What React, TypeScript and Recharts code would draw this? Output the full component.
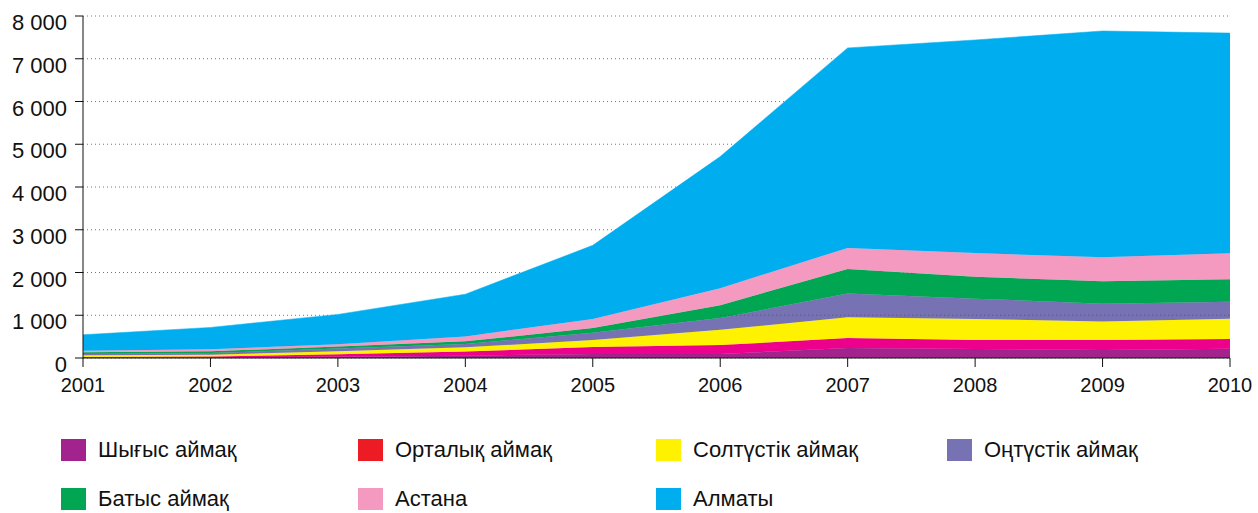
import { AreaChart, Area, XAxis, YAxis, CartesianGrid, ReferenceLine } from 'recharts'

const years = ['2001', '2002', '2003', '2004', '2005', '2006', '2007', '2008', '2009', '2010']

// values, bottom layer first
const shygys = [10, 16, 30, 55, 95, 93, 233, 210, 190, 217]
const ortalyq = [15, 20, 60, 95, 165, 210, 233, 210, 230, 226]
const soltustik = [40, 40, 70, 100, 160, 357, 490, 494, 431, 474]
const ontustik = [30, 40, 60, 80, 170, 273, 551, 474, 418, 397]
const batys = [38, 40, 50, 60, 110, 303, 576, 513, 527, 529]
const astana = [38, 50, 50, 115, 215, 397, 492, 555, 560, 607]
const almaty = [373, 509, 700, 988, 1720, 3078, 4679, 4984, 5294, 5150]

const yTicks = [0, 1000, 2000, 3000, 4000, 5000, 6000, 7000, 8000]

const series = [
  { key: 'shygys', name: 'Шығыс аймақ', values: shygys, fill: '#a3238e', swatch: '#a3238e' },
  { key: 'ortalyq', name: 'Орталық аймақ', values: ortalyq, fill: '#ec008c', swatch: '#ed1c24' },
  { key: 'soltustik', name: 'Солтүстік аймақ', values: soltustik, fill: '#fff200', swatch: '#fff200' },
  { key: 'ontustik', name: 'Оңтүстік аймақ', values: ontustik, fill: '#7672b4', swatch: '#7672b4' },
  { key: 'batys', name: 'Батыс аймақ', values: batys, fill: '#00a651', swatch: '#00a651' },
  { key: 'astana', name: 'Астана', values: astana, fill: '#f49ac1', swatch: '#f49ac1' },
  { key: 'almaty', name: 'Алматы', values: almaty, fill: '#00aeef', swatch: '#00aeef' },
]

const data = years.map((year, i) => {
  const row: Record<string, string | number> = { year }
  series.forEach((s) => {
    row[s.key] = s.values[i]
  })
  return row
})

const font = '"Liberation Sans", Arial, sans-serif'

const fmt = (v: number) => (v >= 1000 ? `${Math.floor(v / 1000)} ${String(v % 1000).padStart(3, '0')}` : String(v))

const YTick = ({ x, y, payload }: any) => (
  <text x={x} y={y + 14} textAnchor="end" fontSize={22} fontFamily={font} fill="#111">
    {fmt(payload.value)}
  </text>
)

const XTick = ({ x, y, payload }: any) => (
  <text x={x} y={y + 21} textAnchor="middle" fontSize={20} fontFamily={font} fill="#111">
    {payload.value}
  </text>
)

// legend grid: [column, row]
const legendPos = [
  [0, 0], [1, 0], [2, 0], [3, 0],
  [0, 1], [1, 1], [2, 1],
]
const colX = [61, 358, 656, 947]
const rowY = [439, 488]

export default function App() {
  return (
    <div style={{ position: 'absolute', left: 0, top: 0, width: 1258, height: 513, overflow: 'hidden', background: '#fff' }}>
      <AreaChart width={1258} height={400} data={data} margin={{ top: 16, right: 28, left: 0, bottom: 1 }}>
        <CartesianGrid horizontal vertical={false} stroke="#777" strokeDasharray="1 3" />
        <XAxis
          dataKey="year"
          tickSize={9}
          tickMargin={4}
          height={41}
          axisLine={{ stroke: '#111' }}
          tickLine={{ stroke: '#111' }}
          tick={<XTick />}
          interval={0}
        />
        <YAxis
          domain={[0, 8000]}
          ticks={yTicks}
          width={83}
          tickSize={8}
          tickMargin={8}
          axisLine={{ stroke: '#111' }}
          tickLine={{ stroke: '#111' }}
          tick={<YTick />}
          interval={0}
        />
        {series.map((s) => (
          <Area
            key={s.key}
            dataKey={s.key}
            name={s.name}
            stackId="1"
            type="linear"
            fill={s.fill}
            fillOpacity={1}
            stroke={s.fill}
            strokeWidth={0.5}
            isAnimationActive={false}
          />
        ))}
        <ReferenceLine
          segment={[{ x: '2006', y: 1000 }, { x: '2010', y: 1000 }]}
          stroke="#555"
          strokeDasharray="1 3"
        />
      </AreaChart>
      {series.map((s, i) => {
        const [c, r] = legendPos[i]
        return (
          <div key={s.key} style={{ position: 'absolute', left: colX[c], top: rowY[r], height: 22, display: 'flex', alignItems: 'center' }}>
            <div style={{ width: 25, height: 22, background: s.swatch }} />
            <span style={{ marginLeft: 12, fontFamily: font, fontSize: 22, color: '#111', whiteSpace: 'nowrap', lineHeight: '22px' }}>
              {s.name}
            </span>
          </div>
        )
      })}
    </div>
  )
}
